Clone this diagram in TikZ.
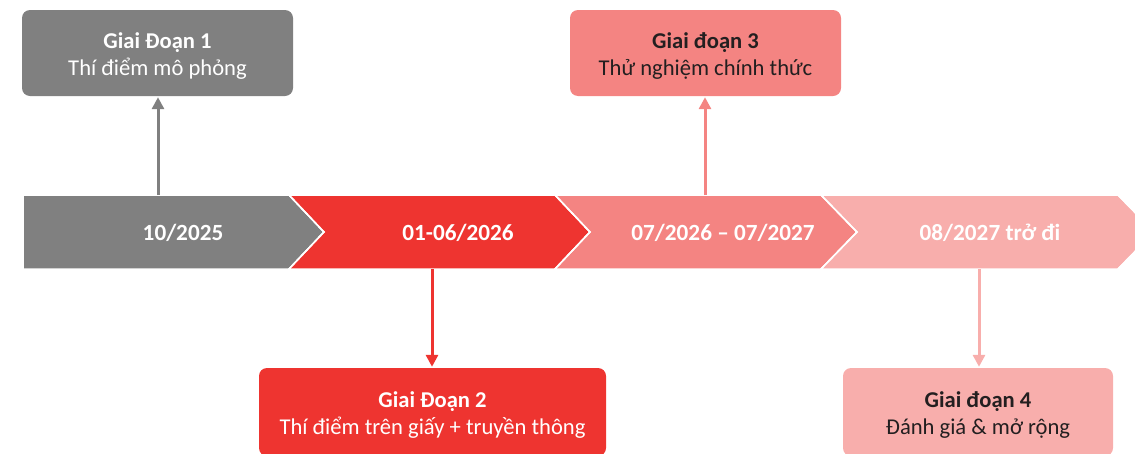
\documentclass[tikz,border=0pt]{standalone}
\usepackage{fontspec}
\setmainfont{Carlito}
\usetikzlibrary{arrows.meta}
\definecolor{cgray}{HTML}{808080}
\definecolor{cred}{HTML}{EE3430}
\definecolor{cpink}{HTML}{F48482}
\definecolor{clight}{HTML}{F8AEAC}
\definecolor{ctext}{HTML}{231F20}
\newcommand{\lowerstrut}{\rule{0pt}{22pt}}
\tikzset{
  phasebox/.style={rounded corners=8pt, minimum width=271pt, minimum height=86pt,
    align=center, inner sep=0pt, font=\fontsize{22.6}{27}\selectfont},
  chev/.style={draw=white, line width=1.5pt, line join=miter},
  datelbl/.style={text=white, font=\fontsize{23.2}{26}\selectfont\bfseries, inner sep=0pt},
  link/.style={line width=3pt, -{Triangle[length=12pt,width=12pt]}, shorten >=1pt},
}
\begin{document}
\begin{tikzpicture}[x=1pt,y=-1pt]
\useasboundingbox (0,0) rectangle (1135,453);
\clip (0,0) rectangle (1135,453);
% chevron band
\fill[chev, fill=cgray] (23,195) -- (289,195) -- (324,232) -- (289,269) -- (23,269) -- cycle;
\fill[chev, fill=cred] (289,195) -- (555,195) -- (590,232) -- (555,269) -- (289,269) -- (324,232) -- cycle;
\fill[chev, fill=cpink] (555,195) -- (821,195) -- (857,232) -- (821,269) -- (555,269) -- (590,232) -- cycle;
\fill[chev, fill=clight] (821,195) -- (1118,195) -- (1154,232) -- (1118,269) -- (821,269) -- (857,232) -- cycle;
\draw[chev] (289,195) -- (324,232) -- (289,269);
\draw[chev] (555,195) -- (590,232) -- (555,269);
\draw[chev] (821,195) -- (857,232) -- (821,269);
\draw[chev] (1118,195) -- (1154,232) -- (1118,269);
% date labels
\node[datelbl] (d1) at (183,232.5) {10/2025};
\node[datelbl] (d2) at (458,232.5) {01-06/2026};
\node[datelbl] (d3) at (723,232.5) {07/2026 – 07/2027};
\node[datelbl] (d4) at (990,232.5) {08/2027 trở đi};
% band anchor points
\coordinate (t1) at (158,195);
\coordinate (t3) at (705,195);
\coordinate (u2) at (432,269);
\coordinate (u4) at (979,269);
% boxes
\node[phasebox, fill=cgray, text=white] (b1) at (157.5,53) {\lowerstrut\textbf{Giai Đoạn 1}\\Thí điểm mô phỏng};
\node[phasebox, fill=cpink, text=ctext] (b3) at (705.5,53) {\lowerstrut\textbf{Giai đoạn 3}\\Thử nghiệm chính thức};
\node[phasebox, fill=cred, text=white, minimum width=347pt, minimum height=88pt] (b2) at (432.5,412) {\lowerstrut\textbf{Giai Đoạn 2}\\Thí điểm trên giấy + truyền thông};
\node[phasebox, fill=clight, text=ctext, minimum width=270pt, minimum height=88pt] (b4) at (978,412) {\lowerstrut\textbf{Giai đoạn 4}\\Đánh giá \& mở rộng};
% connectors
\draw[link, cgray] (t1) -- (t1 |- b1.south);
\draw[link, cpink] (t3) -- (t3 |- b3.south);
\draw[link, cred] (u2) -- (u2 |- b2.north);
\draw[link, clight] (u4) -- (u4 |- b4.north);
\end{tikzpicture}
\end{document}
